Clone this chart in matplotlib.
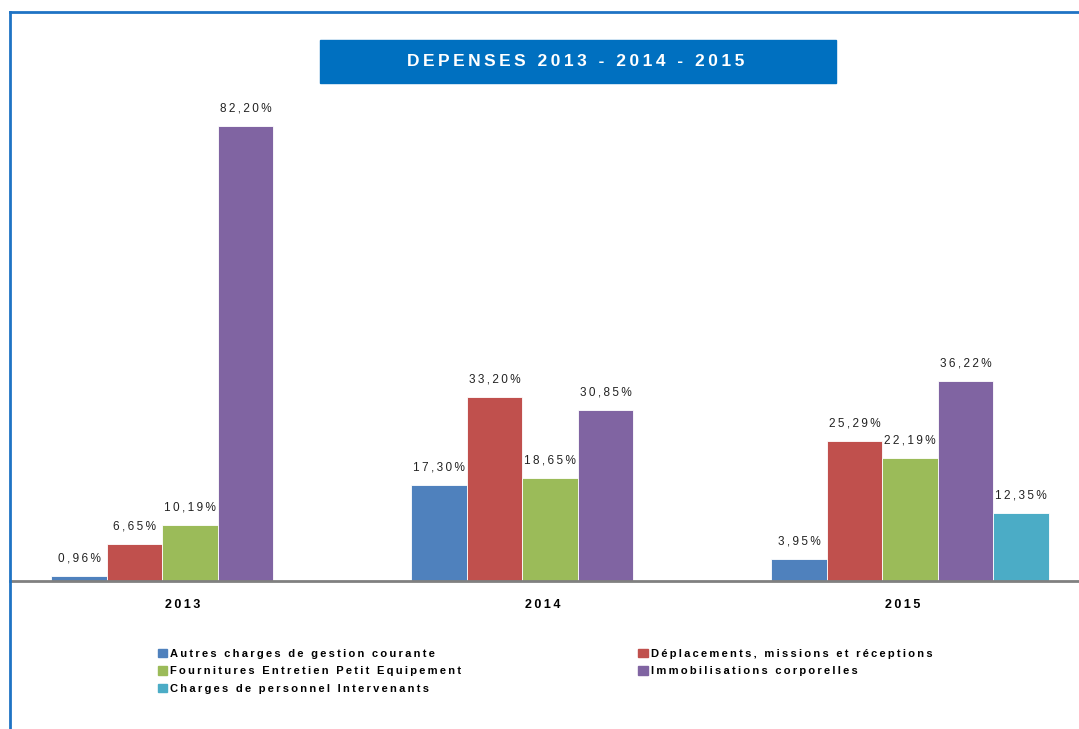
"""Depenses 2013 - 2014 - 2015, grouped bars
"""
import numpy as np
import matplotlib.pyplot as plt
from matplotlib.lines import Line2D
from matplotlib.patches import Rectangle, Patch

years = ['2013', '2014', '2015']
series_names = ['Autres charges de gestion courante',
                'Déplacements, missions et réceptions',
                'Fournitures Entretien Petit Equipement',
                'Immobilisations corporelles',
                'Charges de personnel Intervenants']
autres = [0.96, 17.30, 3.95]
deplacements = [6.65, 33.20, 25.29]
fournitures = [10.19, 18.65, 22.19]
immobilisations = [82.20, 30.85, 36.22]
charges = [np.nan, np.nan, 12.35]
colors = ['#4F81BD', '#C0504D', '#9BBB59', '#8064A2', '#4BACC6']
title = 'DEPENSES 2013 - 2014 - 2015'

FONT = ['Liberation Sans', 'DejaVu Sans']
plt.rcParams['font.family'] = FONT
THIN = '\u2009'


def spaced(s, gap=THIN):
    """fake the wide letter spacing of the original"""
    return gap.join(list(s))


W, H = 1079, 729
fig = plt.figure(figsize=(W / 100, H / 100), dpi=100)

# plot area: baseline at y=581 px, left at x=10 px, runs off the right edge
base_y = 581
top_y = 90
ax = fig.add_axes([10 / W, (H - base_y) / H, 1 - 10 / W, (base_y - top_y) / H])
px_per_pct = 455 / 82.2
ax.set_ylim(0, (base_y - top_y) / px_per_pct)
ax.set_xlim(-0.5, -0.5 + (W - 10) / 360)

all_series = [autres, deplacements, fournitures, immobilisations, charges]
x = np.arange(len(years))
bw = 55.5 / 360
for i, (vals, col, name) in enumerate(zip(all_series, colors, series_names)):
    pos = x + (i - 2) * bw
    ax.bar(pos, vals, width=bw, color=col, edgecolor='white',
           linewidth=0.6, label=name)
    for xp, v in zip(pos, vals):
        if np.isnan(v):
            continue
        lab = f'{v:.2f}'.replace('.', ',') + '%'
        ax.annotate(spaced(lab), (xp, v), xytext=(0, 12.5),
                    textcoords='offset points', ha='center', va='center',
                    fontsize=8.5, color='#222222')

for s in ax.spines.values():
    s.set_visible(False)
ax.set_yticks([])
ax.set_xticks(x - 0.02)
ax.set_xticklabels([spaced(y) for y in years], fontsize=9,
                   fontweight='bold')
ax.tick_params(axis='x', length=0, pad=13)
ax.patch.set_alpha(0)

# baseline
fig.add_artist(Line2D([10 / W, 1], [(H - base_y) / H] * 2,
                      color='#808080', lw=2))

# frame of the chart (left and top only visible)
fig.add_artist(Line2D([10 / W, 10 / W], [0, (H - 12) / H],
                      color='#1F73C4', lw=2))
fig.add_artist(Line2D([10 / W, 1], [(H - 12) / H] * 2,
                      color='#1F73C4', lw=2))

# title box
fig.add_artist(Rectangle((320 / W, (H - 83) / H), 516 / W, 43 / H,
                         transform=fig.transFigure, color='#0070C0'))
title_txt = (' ' + THIN + THIN).join(spaced(w) for w in title.split(' '))
fig.text(576 / W, (H - 61) / H, title_txt, color='white',
         fontsize=12.5, fontweight='bold', ha='center', va='center')

# legend, row order like the original
order = [0, 2, 4, 1, 3]
handles = [Patch(color=colors[i]) for i in order]
labels = [spaced(series_names[i]) for i in order]
fig.legend(handles, labels, ncol=2, loc='upper left',
           bbox_to_anchor=(152 / W, (H - 643) / H), frameon=False,
           prop={'family': FONT, 'weight': 'bold', 'size': 8},
           handlelength=0.85, handleheight=0.85, handletextpad=0.3,
           labelspacing=0.65, columnspacing=15.9, borderpad=0)

fig.savefig('out.png', dpi=100)
